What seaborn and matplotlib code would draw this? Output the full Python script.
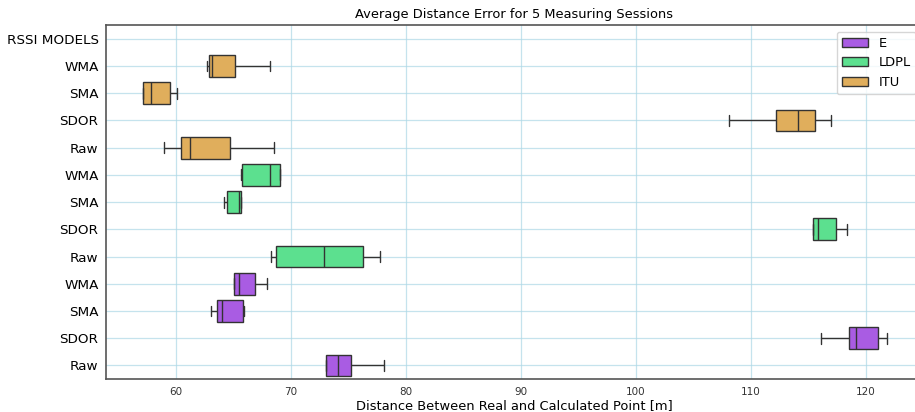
import matplotlib
matplotlib.use("Agg")
import matplotlib.pyplot as plt
import seaborn as sns
import pandas as pd

# Row order, top to bottom (internal unique keys) and display labels
rows = ["RSSI MODELS",
        "ITU WMA", "ITU SMA", "ITU SDOR", "ITU Raw",
        "LDPL WMA", "LDPL SMA", "LDPL SDOR", "LDPL Raw",
        "E WMA", "E SMA", "E SDOR", "E Raw"]
row_labels = ["RSSI MODELS",
              "WMA", "SMA", "SDOR", "Raw",
              "WMA", "SMA", "SDOR", "Raw",
              "WMA", "SMA", "SDOR", "Raw"]
models = ["E", "LDPL", "ITU"]
colors = ["#a95ce3", "#5ce08f", "#e0ae5c"]

# Average distance error of 5 measuring sessions per method (m)
itu_wma = [62.67, 62.84, 63.13, 65.13, 68.20]
itu_sma = [57.10, 57.13, 57.77, 59.50, 60.09]
itu_sdor = [108.10, 112.19, 114.07, 115.58, 116.98]
itu_raw = [58.90, 60.38, 61.16, 64.70, 68.50]
ldpl_wma = [65.63, 65.72, 68.15, 69.05, 69.05]
ldpl_sma = [64.12, 64.44, 65.45, 65.68, 65.68]
ldpl_sdor = [115.38, 115.38, 115.85, 117.41, 118.37]
ldpl_raw = [68.21, 68.65, 72.90, 76.25, 77.69]
e_wma = [64.99, 65.02, 65.48, 66.85, 67.86]
e_sma = [62.99, 63.54, 64.00, 65.83, 65.92]
e_sdor = [116.08, 118.51, 119.12, 121.03, 121.85]
e_raw = [73.03, 73.05, 74.04, 75.20, 78.10]

series = {
    ("ITU", "ITU WMA"): itu_wma, ("ITU", "ITU SMA"): itu_sma,
    ("ITU", "ITU SDOR"): itu_sdor, ("ITU", "ITU Raw"): itu_raw,
    ("LDPL", "LDPL WMA"): ldpl_wma, ("LDPL", "LDPL SMA"): ldpl_sma,
    ("LDPL", "LDPL SDOR"): ldpl_sdor, ("LDPL", "LDPL Raw"): ldpl_raw,
    ("E", "E WMA"): e_wma, ("E", "E SMA"): e_sma,
    ("E", "E SDOR"): e_sdor, ("E", "E Raw"): e_raw,
}
recs = []
for (m, r), vals in series.items():
    for v in vals:
        recs.append({"row": r, "model": m, "value": v})
df = pd.DataFrame(recs)

sns.set_style("white")
plt.rcParams.update({"text.color": "black", "axes.labelcolor": "black",
                     "xtick.color": "#333333", "ytick.color": "black"})
fig = plt.figure(figsize=(9.15, 4.12), dpi=100)
ax = fig.add_axes([0.116, 0.08, 0.892, 0.859])

sns.boxplot(data=df, x="value", y="row", hue="model", order=rows,
            hue_order=models, palette=colors, dodge=False, width=0.8,
            saturation=1, whis=(0, 100), linecolor="#333333", linewidth=1,
            ax=ax)

ax.set_yticks(range(len(rows)))
ax.set_yticklabels(row_labels, fontsize=9.7)
ax.set_xlim(53.9, 124.93)
ax.set_ylim(len(rows) - 0.5, -0.5)
ax.set_xticks([60, 70, 80, 90, 100, 110, 120])
ax.tick_params(axis="x", labelsize=7.5, length=3.5, pad=2, color="#555555")
ax.tick_params(axis="y", length=3.5, pad=2, color="#555555")
ax.grid(True, color="#add8e6", linewidth=0.9, alpha=0.7)
ax.set_axisbelow(True)
for s in ax.spines.values():
    s.set_color("#555555")
    s.set_linewidth(1.2)
ax.set_title("Average Distance Error for 5 Measuring Sessions", fontsize=9.4, pad=5)
ax.set_xlabel("Distance Between Real and Calculated Point [m]", fontsize=9.4, labelpad=2)
ax.set_ylabel("")
ax.legend(title=None, loc="upper right", fontsize=9.4, framealpha=0.8)

fig.savefig("out.png", dpi=100)
